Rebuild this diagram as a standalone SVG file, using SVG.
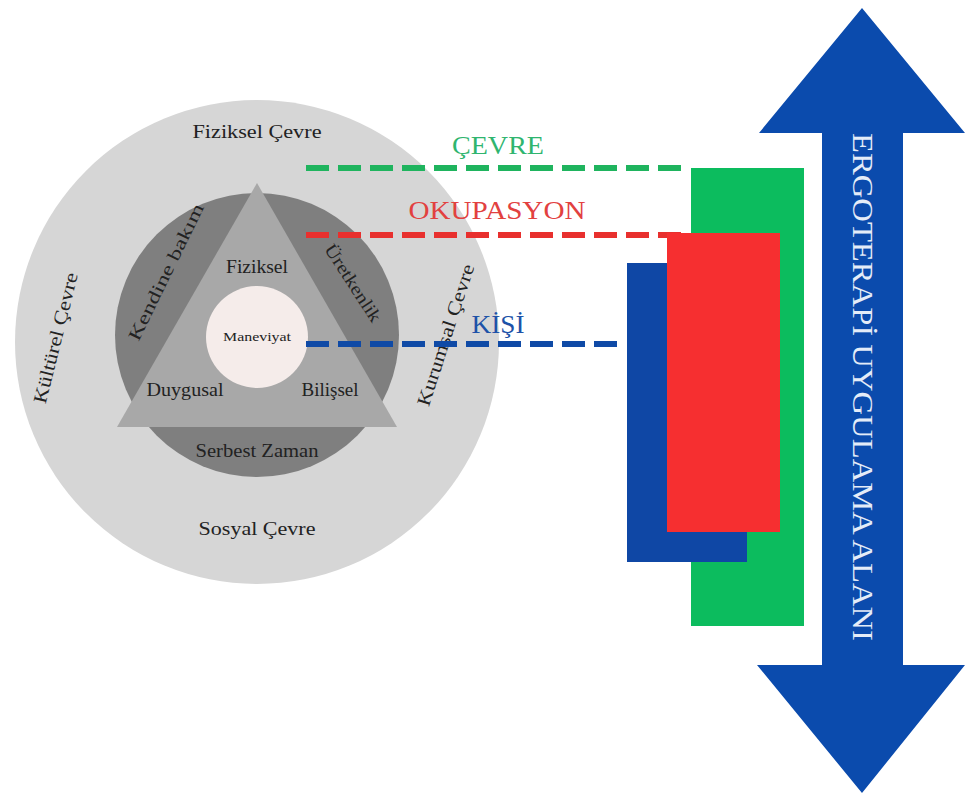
<svg xmlns="http://www.w3.org/2000/svg" width="966" height="798" viewBox="0 0 966 798">
<style>
.t{font-family:"Liberation Serif","DejaVu Serif",serif;fill:#222222;text-anchor:middle}
.lbl{font-family:"Liberation Serif","DejaVu Serif",serif;font-size:25px;text-anchor:middle}
.dash{fill:none;stroke-width:6;stroke-dasharray:23 9}
</style>
<rect width="966" height="798" fill="#ffffff"/>
<g id="model">
<circle cx="257" cy="342" r="242" fill="#d6d6d6"/>
<circle cx="257" cy="335" r="142" fill="#7f7f7f"/>
<polygon points="257,183 397,427 117,427" fill="#a8a8a8"/>
<circle cx="257" cy="337" r="51" fill="#f5ecea"/>
<text class="t" x="257" y="138" font-size="19" textLength="129" lengthAdjust="spacingAndGlyphs">Fiziksel Çevre</text>
<text class="t" x="257" y="535" font-size="19" textLength="117" lengthAdjust="spacingAndGlyphs">Sosyal Çevre</text>
<text class="t" font-size="19" transform="translate(56,338) rotate(-76)" dy="6" textLength="134" lengthAdjust="spacingAndGlyphs">Kültürel Çevre</text>
<text class="t" font-size="19" transform="translate(446,335) rotate(-72)" dy="6" textLength="148" lengthAdjust="spacingAndGlyphs">Kurumsal Çevre</text>
<text class="t" font-size="18" transform="translate(166,272) rotate(-64)" dy="6" textLength="150" lengthAdjust="spacingAndGlyphs">Kendine bakım</text>
<text class="t" font-size="18" transform="translate(353,283) rotate(57)" dy="6" textLength="89" lengthAdjust="spacingAndGlyphs">Üretkenlik</text>
<text class="t" x="257" y="273" font-size="18" textLength="62" lengthAdjust="spacingAndGlyphs">Fiziksel</text>
<text class="t" x="257" y="341" font-size="12" textLength="68" lengthAdjust="spacingAndGlyphs">Maneviyat</text>
<text class="t" x="185" y="396" font-size="18" textLength="77" lengthAdjust="spacingAndGlyphs">Duygusal</text>
<text class="t" x="330" y="396" font-size="18" textLength="57" lengthAdjust="spacingAndGlyphs">Bilişsel</text>
<text class="t" x="257" y="457" font-size="18" textLength="123" lengthAdjust="spacingAndGlyphs">Serbest Zaman</text>
</g>
<g id="connectors">
<line class="dash" x1="306" y1="168" x2="683" y2="168" stroke="#1fb45e"/>
<line class="dash" x1="306" y1="235" x2="683" y2="235" stroke="#e8302e"/>
<line class="dash" x1="306" y1="344" x2="620" y2="344" stroke="#0f4aa6"/>
</g>
<g id="labels">
<text class="lbl" x="498" y="154" fill="#2fb56f" textLength="92" lengthAdjust="spacingAndGlyphs">ÇEVRE</text>
<text class="lbl" x="497" y="219" fill="#e2413f" textLength="177" lengthAdjust="spacingAndGlyphs">OKUPASYON</text>
<text class="lbl" x="498" y="333" fill="#1d52a8" textLength="53" lengthAdjust="spacingAndGlyphs">KİŞİ</text>
</g>
<g id="cevre-box"><rect x="691" y="168" width="113" height="458" fill="#0cbc5e"/></g>
<g id="kisi-box"><rect x="627" y="263" width="120" height="299" fill="#0f47a5"/></g>
<g id="okupasyon-box"><rect x="667" y="233" width="113" height="299" fill="#f62f30"/></g>
<g id="arrow">
<polygon points="862,8 965,133 903,133 903,665 965,665 862,793 757,665 822,665 822,133 759,133" fill="#0b4bad"/>
<text font-family="Liberation Serif,DejaVu Serif,serif" font-size="29" fill="#e4ecf8" text-anchor="middle" transform="translate(862,387) rotate(90)" dy="9" textLength="508" lengthAdjust="spacingAndGlyphs">ERGOTERAPİ UYGULAMA ALANI</text>
</g>
</svg>
